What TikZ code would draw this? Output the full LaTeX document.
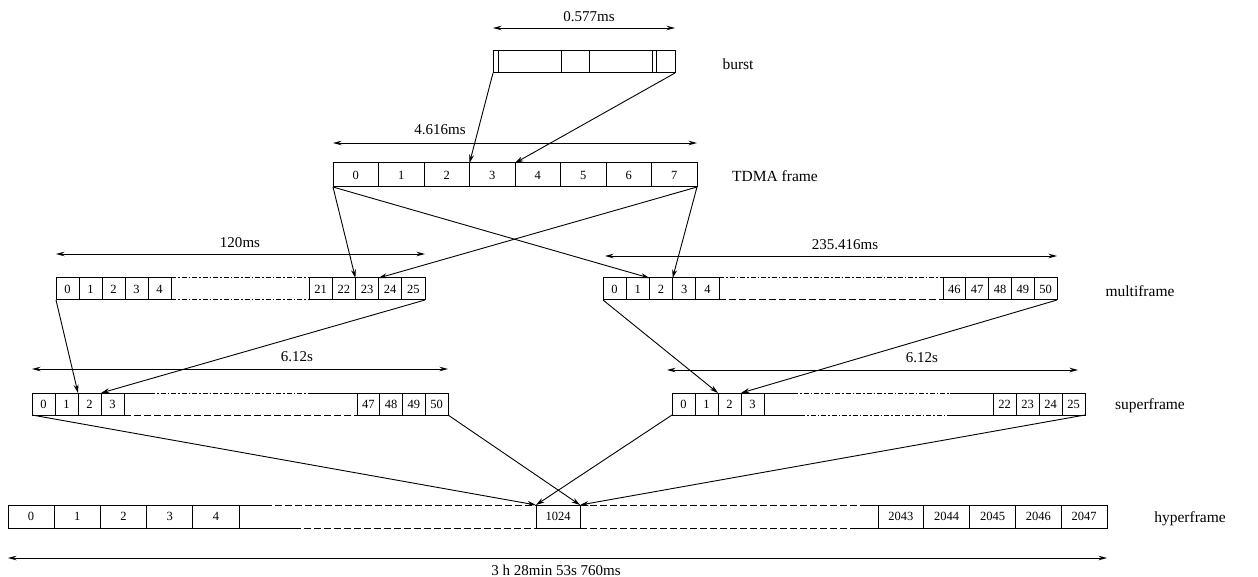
\documentclass[tikz,border=0pt]{standalone}
\usepackage{fontspec}
\setmainfont{Liberation Serif}
\usetikzlibrary{arrows.meta}
\begin{document}
\begin{tikzpicture}[x=1pt,y=-1pt,
  slot/.style={draw, line width=1pt, inner sep=0pt, outer sep=0pt, minimum height=22pt, font=\fontsize{12.5}{14}\selectfont},
  arr/.style={line width=0.9pt, -{Stealth[length=8.5pt,width=5pt]}},
  dim/.style={line width=0.9pt, {Stealth[length=8.5pt,width=4.5pt]}-{Stealth[length=8.5pt,width=4.5pt]}},
  lbl/.style={font=\fontsize{15.5}{17}\selectfont, inner sep=0pt},
  dimlbl/.style={font=\fontsize{15}{17}\selectfont, inner sep=0pt},
  frm/.style={line width=1pt},
  dd/.style={line width=1pt, dash pattern=on 5pt off 2pt on 1.5pt off 2pt},
  ds/.style={line width=1pt, dash pattern=on 7pt off 3pt}]
\useasboundingbox (0,0) rectangle (1258,577);

% ---------- burst ----------
\node[draw, line width=1pt, minimum width=182pt, minimum height=22pt, inner sep=0pt, outer sep=0pt] (burst) at (584,62) {};
\foreach \o in {5,68,96,159,163}
  \draw[line width=0.9pt] ([xshift=\o pt]burst.north west) -- ([xshift=\o pt]burst.south west);
\coordinate (b1) at (493,28); \coordinate (b2) at (675,28);
\draw[dim] (b1) -- (b2);
\node[dimlbl] (bdim) at (589,17) {0.577ms};
\node[lbl] (lburst) at (738,64) {burst};

% ---------- TDMA frame ----------
\foreach \i in {0,...,7}
  \node[slot, minimum width=45.5pt, minimum height=24pt] (t\i) at ({333+45.5*(\i+0.5)},175) {\i};
\coordinate (t1d) at (333,143); \coordinate (t2d) at (697,143);
\draw[dim] (t1d) -- (t2d);
\node[dimlbl] (tdim) at (440,130) {4.616ms};
\node[lbl] (ltdma) at (775,176) {TDMA frame};

% ---------- multiframe left ----------
\foreach \i in {0,...,4}
  \node[slot, minimum width=23pt] (ma\i) at ({56+23*(\i+0.5)},289) {\i};
\foreach \i [count=\k from 0] in {21,...,25}
  \node[slot, minimum width=23.2pt] (ma\i) at ({309+23.2*(\k+0.5)},289) {\i};
\draw[dd] (ma4.north east) -- (ma21.north west);
\draw[dd] (ma4.south east) -- (ma21.south west);
\coordinate (ma1d) at (56,254); \coordinate (ma2d) at (425,254);
\draw[dim] (ma1d) -- (ma2d);
\node[dimlbl] (madim) at (240,243) {120ms};

% ---------- multiframe right ----------
\foreach \i in {0,...,4}
  \node[slot, minimum width=23.2pt] (mb\i) at ({603+23.2*(\i+0.5)},289) {\i};
\foreach \i [count=\k from 0] in {46,...,50}
  \node[slot, minimum width=22.8pt] (mb\i) at ({943+22.8*(\k+0.5)},289) {\i};
\draw[dd] (mb4.north east) -- (mb46.north west);
\draw[ds] (mb4.south east) -- (mb46.south west);
\coordinate (mb1d) at (605,256); \coordinate (mb2d) at (1057,256);
\draw[dim] (mb1d) -- (mb2d);
\node[dimlbl] (mbdim) at (845,245) {235.416ms};
\node[lbl] (lmulti) at (1140,291) {multiframe};

% ---------- superframe left ----------
\foreach \i in {0,...,3}
  \node[slot, minimum width=23pt] (sa\i) at ({32+23*(\i+0.5)},404) {\i};
\foreach \i [count=\k from 0] in {47,...,50}
  \node[slot, minimum width=22.75pt] (sa\i) at ({357+22.75*(\k+0.5)},404) {\i};
\draw[frm] (sa3.north east) -- (150,393);
\draw[dd] (150,393) -- (310,393);
\draw[frm] (310,393) -- (sa47.north west);
\draw[ds] (sa3.south east) -- (sa47.south west);
\coordinate (sa1d) at (32,369); \coordinate (sa2d) at (448,369);
\draw[dim] (sa1d) -- (sa2d);
\node[dimlbl] (sadim) at (297,357) {6.12s};

% ---------- superframe right ----------
\foreach \i in {0,...,3}
  \node[slot, minimum width=23pt] (sb\i) at ({672+23*(\i+0.5)},404) {\i};
\foreach \i [count=\k from 0] in {22,...,25}
  \node[slot, minimum width=23pt] (sb\i) at ({993+23*(\k+0.5)},404) {\i};
\draw[frm] (sb3.north east) -- (793,393);
\draw[dd] (793,393) -- (950,393);
\draw[frm] (950,393) -- (sb22.north west);
\draw[frm] (sb3.south east) -- (800,415);
\draw[dd] (800,415) -- (950,415);
\draw[frm] (950,415) -- (sb22.south west);
\coordinate (sb1d) at (667,370); \coordinate (sb2d) at (1078,370);
\draw[dim] (sb1d) -- (sb2d);
\node[dimlbl] (sbdim) at (922,358) {6.12s};
\node[lbl] (lsuper) at (1150,406) {superframe};

% ---------- hyperframe ----------
\foreach \i in {0,...,4}
  \node[slot, minimum width=46.2pt, minimum height=23pt] (h\i) at ({8+46.2*(\i+0.5)},516.5) {\i};
\node[slot, minimum width=44pt, minimum height=23pt] (h1024) at (558,516.5) {1024};
\foreach \i [count=\k from 0] in {2043,...,2047}
  \node[slot, minimum width=45.8pt, minimum height=23pt] (h\i) at ({878+45.8*(\k+0.5)},516.5) {\i};
\draw[frm] (h4.north east) -- (265,505);
\draw[ds] (265,505) -- (h1024.north west);
\draw[frm] (h4.south east) -- (294,528);
\draw[ds] (294,528) -- (h1024.south west);
\draw[ds] (h1024.north east) -- (860,505);
\draw[frm] (860,505) -- (h2043.north west);
\draw[ds] (h1024.south east) -- (850,528);
\draw[frm] (850,528) -- (h2043.south west);
\coordinate (h1d) at (8,558); \coordinate (h2d) at (1107,558);
\draw[dim] (h1d) -- (h2d);
\node[dimlbl] (hdim) at (556,570) {3 h 28min 53s 760ms};
\node[lbl] (lhyper) at (1190,519) {hyperframe};

% ---------- connectors ----------
\draw[arr] (burst.south west) -- (t3.north west);
\draw[arr] (burst.south east) -- (t4.north west);
\draw[arr] (t0.south west) -- (ma23.north west);
\draw[arr] (t7.south east) -- (ma24.north west);
\draw[arr] (t0.south west) -- (mb2.north west);
\draw[arr] (t7.south east) -- (mb3.north west);
\draw[arr] (ma0.south west) -- (sa2.north west);
\draw[arr] (ma25.south east) -- (sa3.north west);
\draw[arr] (mb0.south west) -- (sb2.north west);
\draw[arr] (mb50.south east) -- (sb3.north west);
\draw[arr] (sa0.south west) -- (h1024.north west);
\draw[arr] (sa50.south east) -- (h1024.north east);
\draw[arr] (sb0.south west) -- (h1024.north west);
\draw[arr] (sb25.south east) -- (h1024.north east);
\end{tikzpicture}
\end{document}
